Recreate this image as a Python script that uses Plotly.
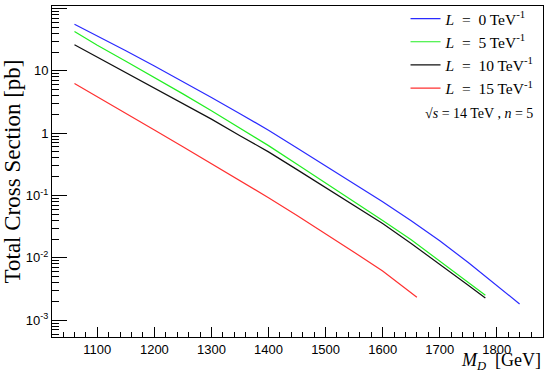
import plotly.graph_objects as go

# M_D values [GeV] and total cross sections [pb]
md_l0 = [1060, 1100, 1150, 1200, 1250, 1300, 1350, 1400, 1450, 1500,
         1550, 1600, 1650, 1700, 1750, 1800, 1840]
xs_l0 = [55.7, 36.5, 21.0, 11.94, 6.71, 3.73, 2.05, 1.117, 0.579, 0.301,
         0.154, 0.0794, 0.0394, 0.0188, 0.00841, 0.00363, 0.00182]

md_l5 = [1060, 1100, 1150, 1200, 1250, 1300, 1350, 1400, 1450, 1500,
         1550, 1600, 1650, 1700, 1750, 1780]
xs_l5 = [42.7, 25.7, 14.3, 7.85, 4.27, 2.29, 1.216, 0.631, 0.316, 0.160,
         0.0804, 0.0398, 0.0195, 0.00891, 0.00407, 0.00251]

md_l10 = [1060, 1100, 1150, 1200, 1250, 1300, 1350, 1400, 1450, 1500,
          1550, 1600, 1650, 1700, 1750, 1780]
xs_l10 = [26.2, 16.6, 9.44, 5.31, 3.02, 1.68, 0.912, 0.501, 0.260, 0.133,
          0.0692, 0.0355, 0.0170, 0.00794, 0.00363, 0.00226]

md_l15 = [1060, 1100, 1150, 1200, 1250, 1300, 1350, 1400, 1450, 1500,
          1550, 1600, 1650, 1660]
xs_l15 = [6.25, 3.86, 2.10, 1.127, 0.605, 0.325, 0.175, 0.0923, 0.0479, 0.0245,
          0.0123, 0.00617, 0.00275, 0.00234]

labels = ["0", "5", "10", "15"]
y_tickvals = [1e-3, 1e-2, 1e-1, 1, 10, 100]
y_ticktext = ["10<sup>-3</sup>", "10<sup>-2</sup>", "10<sup>-1</sup>", "1", "10", "10<sup>2</sup>"]

serif = "Liberation Serif"
sans = "Liberation Sans"
sp = "\u2002"

fig = go.Figure()
series = [(md_l0, xs_l0, "#2a2aff"), (md_l5, xs_l5, "#22ee22"),
          (md_l10, xs_l10, "#111111"), (md_l15, xs_l15, "#ff3030")]
for (x, y, c), lab in zip(series, labels):
    fig.add_trace(go.Scatter(
        x=x, y=y, mode="lines", line=dict(color=c, width=1.2),
        name="<i>L</i>" + sp + "=" + sp + lab + " TeV<sup>-1</sup>",
        legendgroup=lab,
    ))

fig.update_layout(
    width=545, height=376,
    margin=dict(l=52, r=2, t=4, b=39),
    plot_bgcolor="white", paper_bgcolor="white",
    showlegend=True,
    legend=dict(x=0.72, y=1.012, xanchor="left", yanchor="top",
                font=dict(family=serif, size=15.5, color="black"),
                bgcolor="rgba(0,0,0,0)", tracegroupgap=0,
                itemwidth=30),
    xaxis=dict(range=[1020.6, 1881], showgrid=False, zeroline=False,
               showline=True, linecolor="black", linewidth=1, mirror=True,
               ticks="inside", ticklen=10, tickcolor="black",
               dtick=100, tick0=1000, automargin=False,
               minor=dict(dtick=20, ticks="inside", ticklen=5, tickcolor="black"),
               tickfont=dict(family=sans, size=13, color="black")),
    yaxis=dict(type="log", range=[-3.27, 2.04], showgrid=False, zeroline=False,
               showline=True, linecolor="black", linewidth=1, mirror=True,
               ticks="inside", ticklen=15, tickcolor="black", automargin=False,
               tickvals=y_tickvals, ticktext=y_ticktext,
               minor=dict(ticks="inside", ticklen=7, tickcolor="black", dtick="D1"),
               tickfont=dict(family=sans, size=13, color="black"),
               title=dict(text="Total Cross Section [pb]",
                          font=dict(family=serif, size=23, color="black"),
                          standoff=1)),
)

fig.add_annotation(x=1.0, y=-0.114, xref="paper", yref="paper",
                   xanchor="right", yanchor="bottom", showarrow=False,
                   text="<i>M</i><sub><i>D</i></sub>" + sp + "[GeV]",
                   font=dict(family=serif, size=18, color="black"))
fig.add_annotation(x=0.755, y=0.675, xref="paper", yref="paper",
                   xanchor="left", yanchor="middle", showarrow=False,
                   text="\u221a<i>s</i> = 14 TeV , <i>n</i> = 5",
                   font=dict(family=serif, size=14, color="black"))

fig.write_html("out.html", post_script="document.body.style.margin='0';",
               config={"displayModeBar": False})
